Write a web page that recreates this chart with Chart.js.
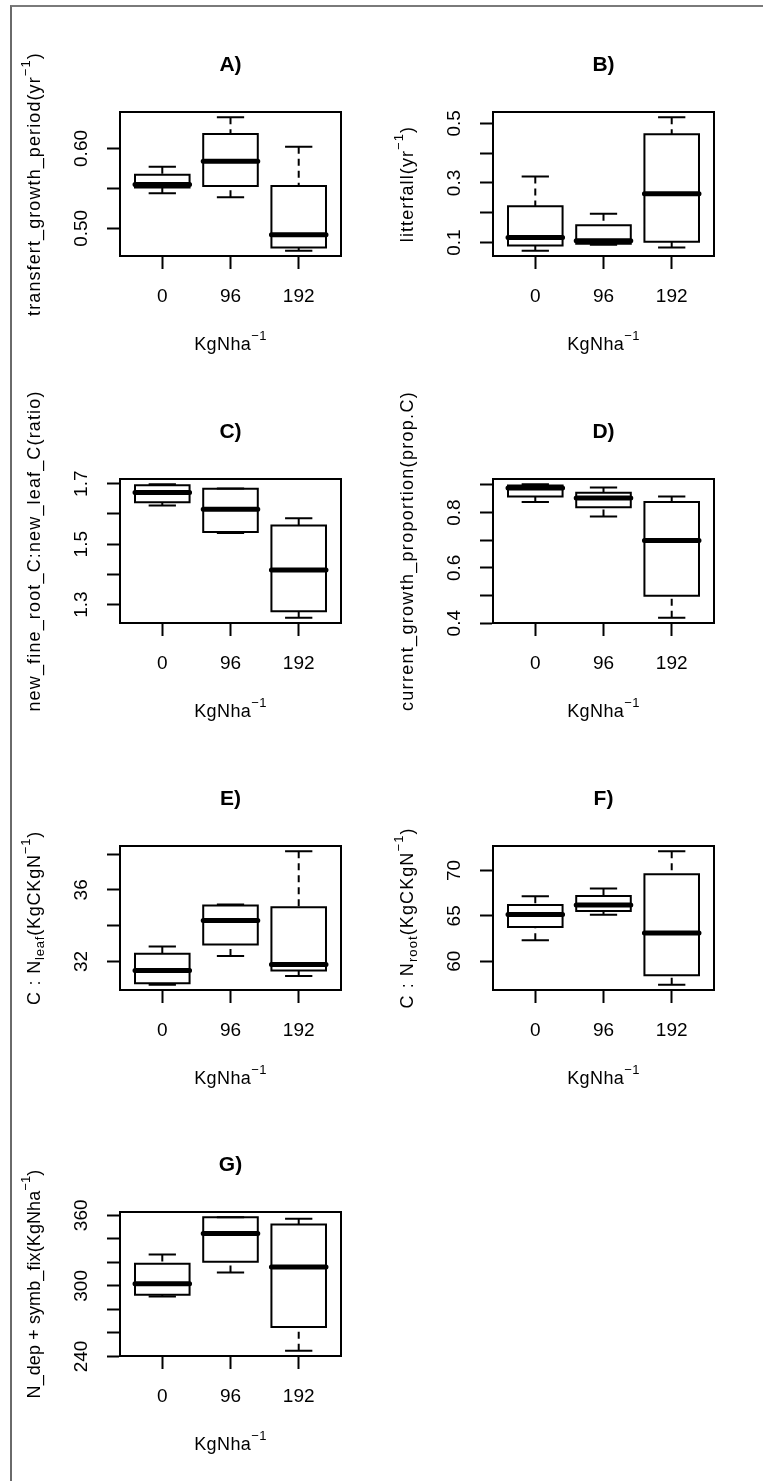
<!DOCTYPE html>
<html><head><meta charset="utf-8">
<script src="https://cdn.jsdelivr.net/npm/chart.js@4/dist/chart.umd.min.js"></script>
<style>
html,body{margin:0;padding:0;background:#fff;}
#page{position:relative;width:763px;height:1481px;overflow:hidden;background:#fff;}
#frame{position:absolute;left:10px;top:5px;width:800px;height:1500px;border-top:2px solid #7a7a7a;border-left:2px solid #6a6a6a;}
canvas.panel{position:absolute;}
</style></head><body><div id="page"><div id="frame"></div></div>
<script>
// ---- shared categories / axis text ----
const groupLabels = ['0', '96', '192'];
const groupPositions = [1, 2, 3];
const xTitle = 'KgNha^{−1}';

// ---- Panel A ----
const aTitle = 'A)';
const aYTitle = 'transfert_growth_period(yr^{−1})';
const aMin = [0.544, 0.539, 0.472];
const aQ1  = [0.551, 0.553, 0.476];
const aMed = [0.555, 0.584, 0.492];
const aQ3  = [0.567, 0.618, 0.553];
const aMax = [0.577, 0.639, 0.602];
const aTicks = [0.50, 0.55, 0.60];
const aTickLabels = ['0.50', '', '0.60'];

// ---- Panel B ----
const bTitle = 'B)';
const bYTitle = 'litterfall(yr^{−1})';
const bMin = [0.073, 0.093, 0.084];
const bQ1  = [0.090, 0.096, 0.103];
const bMed = [0.117, 0.106, 0.264];
const bQ3  = [0.222, 0.158, 0.463];
const bMax = [0.322, 0.197, 0.520];
const bTicks = [0.1, 0.2, 0.3, 0.4, 0.5];
const bTickLabels = ['0.1', '', '0.3', '', '0.5'];

// ---- Panel C ----
const cTitle = 'C)';
const cYTitle = 'new_fine_root_C:new_leaf_C(ratio)';
const cMin = [1.628, 1.537, 1.257];
const cQ1  = [1.639, 1.540, 1.278];
const cMed = [1.671, 1.616, 1.415];
const cQ3  = [1.695, 1.683, 1.562];
const cMax = [1.698, 1.684, 1.586];
const cTicks = [1.3, 1.4, 1.5, 1.6, 1.7];
const cTickLabels = ['1.3', '', '1.5', '', '1.7'];

// ---- Panel D ----
const dTitle = 'D)';
const dYTitle = 'current_growth_proportion(prop.C)';
const dMin = [0.838, 0.786, 0.420];
const dQ1  = [0.858, 0.819, 0.499];
const dMed = [0.889, 0.853, 0.699];
const dQ3  = [0.898, 0.872, 0.838];
const dMax = [0.902, 0.891, 0.858];
const dTicks = [0.4, 0.5, 0.6, 0.7, 0.8, 0.9];
const dTickLabels = ['0.4', '', '0.6', '', '0.8', ''];

// ---- Panel E ----
const eTitle = 'E)';
const eYTitle = 'C : N_{leaf}(KgCKgN^{−1})';
const eMin = [30.70, 32.30, 31.19];
const eQ1  = [30.78, 32.94, 31.49];
const eMed = [31.49, 34.29, 31.83];
const eQ3  = [32.43, 35.12, 35.03];
const eMax = [32.83, 35.18, 38.15];
const eTicks = [32, 34, 36, 38];
const eTickLabels = ['32', '', '36', ''];

// ---- Panel F ----
const fTitle = 'F)';
const fYTitle = 'C : N_{root}(KgCKgN^{−1})';
const fMin = [62.30, 65.11, 57.41];
const fQ1  = [63.78, 65.52, 58.44];
const fMed = [65.15, 66.19, 63.11];
const fQ3  = [66.19, 67.19, 69.59];
const fMax = [67.15, 68.00, 72.11];
const fTicks = [60, 65, 70];
const fTickLabels = ['60', '65', '70'];

// ---- Panel G ----
const gTitle = 'G)';
const gYTitle = 'N_dep + symb_fix(KgNha^{−1})';
const gMin = [290.9, 311.4, 244.9];
const gQ1  = [292.4, 320.6, 265.0];
const gMed = [301.9, 344.5, 316.0];
const gQ3  = [318.9, 358.3, 352.2];
const gMax = [326.6, 358.3, 357.1];
const gTicks = [240, 260, 280, 300, 320, 340, 360];
const gTickLabels = ['240', '', '', '300', '', '', '360'];

// layout + style per panel (positions in the 2-column grid, title letter spacing)
const panels = [
  {col:0,row:0,sp:1.1,title:aTitle,yTitle:aYTitle,min:aMin,q1:aQ1,med:aMed,q3:aQ3,max:aMax,ticks:aTicks,labels:aTickLabels},
  {col:1,row:0,sp:1.1,title:bTitle,yTitle:bYTitle,min:bMin,q1:bQ1,med:bMed,q3:bQ3,max:bMax,ticks:bTicks,labels:bTickLabels},
  {col:0,row:1,sp:1.15,title:cTitle,yTitle:cYTitle,min:cMin,q1:cQ1,med:cMed,q3:cQ3,max:cMax,ticks:cTicks,labels:cTickLabels},
  {col:1,row:1,sp:1.3,title:dTitle,yTitle:dYTitle,min:dMin,q1:dQ1,med:dMed,q3:dQ3,max:dMax,ticks:dTicks,labels:dTickLabels},
  {col:0,row:2,sp:0.8,title:eTitle,yTitle:eYTitle,min:eMin,q1:eQ1,med:eMed,q3:eQ3,max:eMax,ticks:eTicks,labels:eTickLabels},
  {col:1,row:2,sp:1.1,title:fTitle,yTitle:fYTitle,min:fMin,q1:fQ1,med:fMed,q3:fQ3,max:fMax,ticks:fTicks,labels:fTickLabels},
  {col:0,row:3,sp:0.1,title:gTitle,yTitle:gYTitle,min:gMin,q1:gQ1,med:gMed,q3:gQ3,max:gMax,ticks:gTicks,labels:gTickLabels}
];

// ---- layout / style ----
const FAMILY = '"Liberation Sans", Arial, Helvetica, sans-serif';
const FONT_SIZE = 18;
const TICK_SIZE = 19;
const SMALL_SIZE = 13;
const PANEL_W = 373, PANEL_H = 367;
const ROW_TOPS = [0, 367, 734, 1100];
const Y_AXIS_W = 120, X_AXIS_H = 111, RIGHT_PAD = 32;
const TICK_LEN = 13;
const BOX_HALF = 0.4, CAP_HALF = 0.2;

function parseRich(s) {
  const parts = []; const re = /(\^\{[^}]*\}|_\{[^}]*\})/g; let last = 0, m;
  while ((m = re.exec(s))) {
    if (m.index > last) parts.push({t: s.slice(last, m.index), k: 0});
    parts.push({t: m[0].slice(2, -1), k: m[0][0] === '^' ? 1 : -1});
    last = re.lastIndex;
  }
  if (last < s.length) parts.push({t: s.slice(last), k: 0});
  return parts;
}
function drawRich(ctx, str, x, y, rot, spacing) {
  const parts = parseRich(str);
  ctx.save(); ctx.translate(x, y); ctx.rotate(rot);
  ctx.textBaseline = 'alphabetic'; ctx.textAlign = 'left'; ctx.fillStyle = '#000';
  if ('letterSpacing' in ctx) ctx.letterSpacing = spacing + 'px';
  let total = 0;
  parts.forEach(p => { p.font = (p.k ? SMALL_SIZE : FONT_SIZE) + 'px ' + FAMILY; ctx.font = p.font; p.w = ctx.measureText(p.t).width; total += p.w; });
  let cx = -total / 2;
  parts.forEach(p => { ctx.font = p.font; ctx.fillText(p.t, cx, p.k === 1 ? -10 : (p.k === -1 ? 4 : 0)); cx += p.w; });
  ctx.restore();
}
const axisTitlePlugin = {
  id: 'axisTitles',
  afterDraw(chart, args, opts) {
    const a = chart.chartArea, ctx = chart.ctx;
    drawRich(ctx, opts.xText, (a.left + a.right) / 2, a.bottom + 94, 0, 0.4);
    drawRich(ctx, opts.yText, a.left - 80.5, (a.top + a.bottom) / 2, -Math.PI / 2, opts.spacing);
  }
};

const measureCtx = document.createElement('canvas').getContext('2d');
measureCtx.font = TICK_SIZE + 'px ' + FAMILY;

const page = document.getElementById('page');
panels.forEach(p => {
  const pts = {box: [], whisk: [], caps: [], med: []};
  groupPositions.forEach((x, i) => {
    pts.box.push({x:x-BOX_HALF,y:p.q1[i]},{x:x+BOX_HALF,y:p.q1[i]},{x:x+BOX_HALF,y:p.q3[i]},{x:x-BOX_HALF,y:p.q3[i]},{x:x-BOX_HALF,y:p.q1[i]},{x:x,y:null});
    pts.whisk.push({x:x,y:p.max[i]},{x:x,y:p.q3[i]},{x:x,y:null},{x:x,y:p.min[i]},{x:x,y:p.q1[i]},{x:x,y:null});
    pts.caps.push({x:x-CAP_HALF,y:p.max[i]},{x:x+CAP_HALF,y:p.max[i]},{x:x,y:null},{x:x-CAP_HALF,y:p.min[i]},{x:x+CAP_HALF,y:p.min[i]},{x:x,y:null});
    pts.med.push({x:x-BOX_HALF,y:p.med[i]},{x:x+BOX_HALF,y:p.med[i]},{x:x,y:null});
  });
  const lo = Math.min(...p.min), hi = Math.max(...p.max), r = hi - lo;
  const yMin = lo - 0.04 * r, yMax = hi + 0.04 * r;
  const xMin = 0.5 - 0.04 * 3, xMax = 3.5 + 0.04 * 3;
  const widest = Math.max(...p.labels.map(l => measureCtx.measureText(l).width));
  const yPad = 38 - TICK_LEN - widest / 2;

  const canvas = document.createElement('canvas');
  canvas.width = PANEL_W; canvas.height = PANEL_H; canvas.className = 'panel';
  canvas.style.left = (p.col * PANEL_W) + 'px'; canvas.style.top = ROW_TOPS[p.row] + 'px';
  canvas.style.width = PANEL_W + 'px'; canvas.style.height = PANEL_H + 'px';
  page.appendChild(canvas);

  const common = {showLine: true, pointRadius: 0, pointHoverRadius: 0, borderColor: '#000', backgroundColor: '#000', fill: false, tension: 0, clip: false, spanGaps: false};
  new Chart(canvas, {
    type: 'scatter',
    data: {datasets: [
      Object.assign({label:'median', data: pts.med, borderWidth: 5, borderCapStyle: 'round', order: 0}, common),
      Object.assign({label:'caps', data: pts.caps, borderWidth: 2, borderCapStyle: 'butt', order: 1}, common),
      Object.assign({label:'box', data: pts.box, borderWidth: 2, borderCapStyle: 'square', borderJoinStyle: 'miter', order: 2}, common),
      Object.assign({label:'whiskers', data: pts.whisk, borderWidth: 2, borderDash: [7, 5], borderCapStyle: 'butt', order: 3}, common)
    ]},
    options: {
      responsive: false, animation: false, devicePixelRatio: 1,
      layout: {padding: {left: 0, right: RIGHT_PAD, top: 0, bottom: 0}},
      plugins: {
        legend: {display: false}, tooltip: {enabled: false},
        title: {display: true, text: p.title, fullSize: false, color: '#000',
          font: {family: FAMILY, size: 21, weight: 'bold'}, padding: {top: 53, bottom: 33.8}},
        axisTitles: {xText: xTitle, yText: p.yTitle, spacing: p.sp}
      },
      scales: {
        x: {type: 'linear', position: 'bottom', min: xMin, max: xMax,
          afterBuildTicks: s => { s.ticks = groupPositions.map(v => ({value: v})); },
          afterFit: s => { s.height = X_AXIS_H; },
          ticks: {callback: (v, i) => groupLabels[i], color: '#000', font: {family: FAMILY, size: TICK_SIZE}, padding: 16, maxRotation: 0, autoSkip: false},
          grid: {drawOnChartArea: false, drawTicks: true, tickLength: TICK_LEN, tickWidth: 2, tickColor: '#000', color: '#000'},
          border: {display: true, color: '#000', width: 2}},
        x2: {type: 'linear', position: 'top', min: xMin, max: xMax,
          afterFit: s => { s.height = 0; },
          ticks: {display: false}, grid: {display: false, drawTicks: false},
          border: {display: true, color: '#000', width: 2}},
        y: {type: 'linear', position: 'left', min: yMin, max: yMax,
          afterBuildTicks: s => { s.ticks = p.ticks.map(v => ({value: v})); },
          afterFit: s => { s.width = Y_AXIS_W; },
          ticks: {callback: (v, i) => p.labels[i], color: '#000', font: {family: FAMILY, size: TICK_SIZE},
            minRotation: 90, maxRotation: 90, crossAlign: 'center', padding: yPad, autoSkip: false},
          grid: {drawOnChartArea: false, drawTicks: true, tickLength: TICK_LEN, tickWidth: 2, tickColor: '#000', color: '#000'},
          border: {display: true, color: '#000', width: 2}},
        y2: {type: 'linear', position: 'right', min: yMin, max: yMax,
          afterFit: s => { s.width = 0; },
          ticks: {display: false}, grid: {display: false, drawTicks: false},
          border: {display: true, color: '#000', width: 2}}
      }
    },
    plugins: [axisTitlePlugin]
  });
});
</script>
</body></html>
